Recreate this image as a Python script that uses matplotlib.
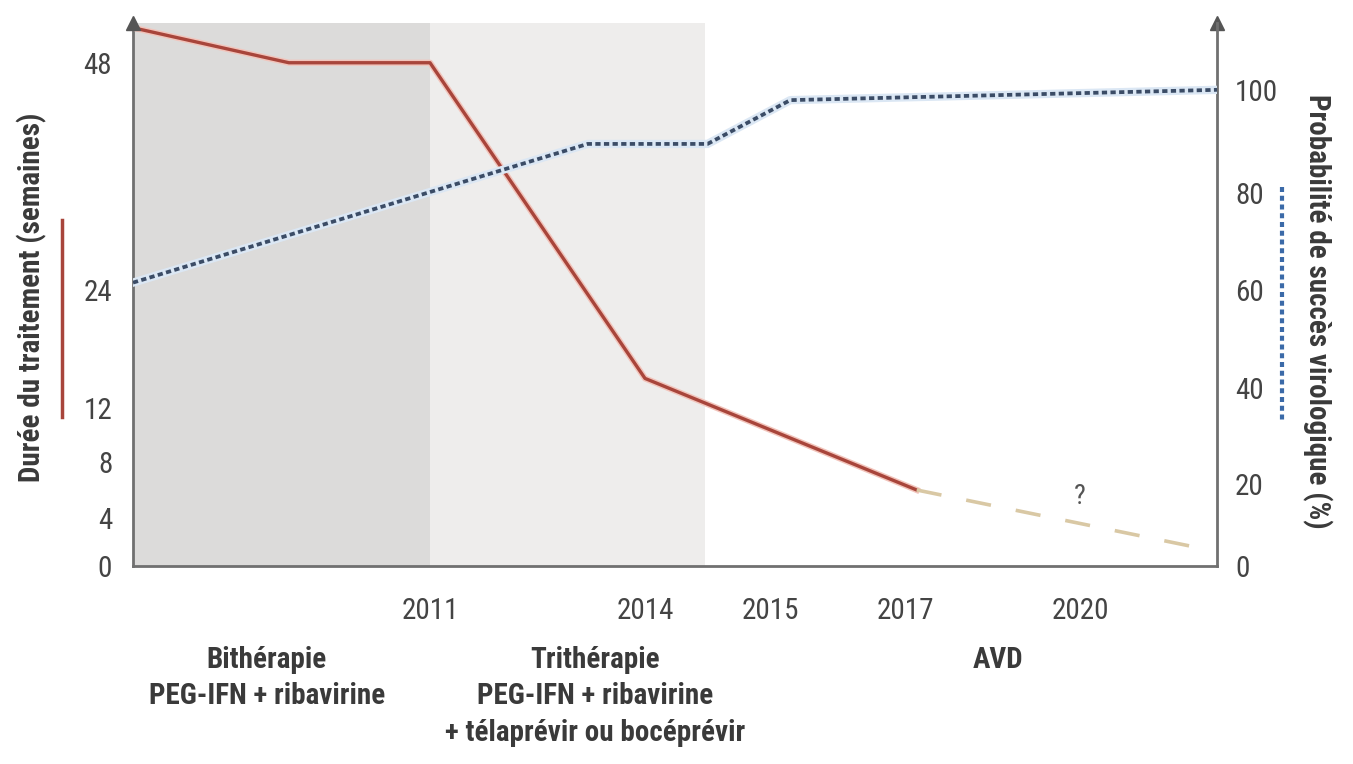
import matplotlib
matplotlib.use("Agg")
import matplotlib.pyplot as plt
import numpy as np
from matplotlib.lines import Line2D

plt.rcParams['font.family'] = ['Roboto Condensed', 'Open Sans Condensed',
                               'Liberation Sans Narrow', 'Roboto', 'DejaVu Sans']

# ---- data ----
red_years = [2007, 2009.1, 2011, 2014, 2017.2]
red_weeks = [51.7, 48, 48, 15, 6]
future_years = [2017.2, 2022.3]
future_weeks = [6, 1.3]

blue_years = [2007, 2013.2, 2014.5, 2015.3, 2022.4]
blue_pct = [61.5, 89.5, 89.5, 98, 100]

year_ticks = [2011, 2014, 2015, 2017, 2020]
week_ticks = [0, 4, 8, 12, 24, 48]
pct_ticks = [0, 20, 40, 60, 80, 100]

bands = [(2007, 2011, '#dcdbda'), (2011, 2014.48, '#eeedec')]
groups = [(2008.8, "Bithérapie\nPEG-IFN + ribavirine"),
          (2013.3, "Trithérapie\nPEG-IFN + ribavirine\n+ télaprévir ou bocéprévir"),
          (2018.6, "AVD")]

# ---- schematic (non linear) scales of the original figure ----
x_knots = [2000, 2007, 2011, 2014, 2015, 2017, 2020, 2022.4, 2030]
x_pix = [-520, 0, 297, 512, 637, 772, 947, 1084, 1529]
w_knots = [0, 4, 8, 12, 24, 48, 60]
w_pix = [0, 48, 104, 158, 276, 503, 616.5]
p_knots = [0, 20, 40, 60, 80, 100, 120]
p_pix = [0, 82, 178, 276, 373, 476, 578]


def interp_scale(knots, pix):
    knots = np.asarray(knots, float)
    pix = np.asarray(pix, float)
    return (lambda v: np.interp(v, knots, pix),
            lambda p: np.interp(p, pix, knots))


W, H = 1353, 764
fig = plt.figure(figsize=(W / 100, H / 100), dpi=100)
ax = fig.add_axes([133 / W, 1 - 566 / H, (1217 - 133) / W, (566 - 23) / H])
ax.set_xscale('function', functions=interp_scale(x_knots, x_pix))
ax.set_yscale('function', functions=interp_scale(w_knots, w_pix))
ax.set_xlim(2007, 2022.4)
ax.set_ylim(0, 52.2)

ax2 = ax.twinx()
ax2.set_yscale('function', functions=interp_scale(p_knots, p_pix))
ax2.set_ylim(0, 113.1)

for x0, x1, c in bands:
    ax.axvspan(x0, x1, color=c, lw=0, zorder=0)

# treatment duration
ax.plot(red_years, red_weeks, color='#f2c4bb', lw=4.5, zorder=3)
ax.plot(red_years, red_weeks, color='#a8453b', lw=2.4, zorder=4)
ax.plot(future_years, future_weeks, color='#d9c8a4', lw=2.6,
        dashes=(7, 7), zorder=4)
ax.text(2020, 5.5, "?", fontsize=20, color='#555555', ha='center', va='center')

# probability of success
ax2.plot(blue_years, blue_pct, color='#dbe7f4', lw=6, zorder=3)
ax2.plot(blue_years, blue_pct, color='#3b4c66', lw=2.7,
         dashes=(1.4, 0.9), zorder=4)

axis_col = '#707070'
for a in (ax, ax2):
    for s in a.spines.values():
        s.set_visible(False)
    a.tick_params(length=0)
for a, side in ((ax, 'left'), (ax, 'bottom'), (ax2, 'right')):
    a.spines[side].set_visible(True)
    a.spines[side].set_color(axis_col)
    a.spines[side].set_linewidth(2)

ax.set_xticks(year_ticks)
ax.set_xticklabels([str(y) for y in year_ticks])
ax.set_yticks(week_ticks)
ax.set_yticklabels([str(w) for w in week_ticks])
ax2.set_yticks(pct_ticks)
ax2.set_yticklabels([str(p) for p in pct_ticks])
ax.xaxis.set_minor_locator(plt.NullLocator())
ax.yaxis.set_minor_locator(plt.NullLocator())
ax2.yaxis.set_minor_locator(plt.NullLocator())
ax.tick_params(axis='x', pad=22, labelsize=21, labelcolor='#444444')
ax.tick_params(axis='y', pad=15, labelsize=21, labelcolor='#444444')
ax2.tick_params(axis='y', pad=13, labelsize=21, labelcolor='#444444')

# arrow heads on the vertical axes
for xa in (0, 1):
    ax.plot([xa], [1.0], marker='^', ms=10, color='#555555',
            transform=ax.transAxes, clip_on=False, zorder=6)

# phase labels under the axis
for gx, txt in groups:
    ax.text(gx, -0.147, txt, transform=ax.get_xaxis_transform(), ha='center',
            va='top', fontsize=21, fontweight='bold', color='#3a3a3a',
            linespacing=1.38)

# axis titles with their legend strokes
fig.text(32 / W, 1 - 297 / H, "Durée du traitement (semaines)", rotation=90,
         ha='center', va='center', fontsize=21, fontweight='bold', color='#3a3a3a')
fig.text(1317 / W, 1 - 311 / H, "Probabilité de succès virologique (%)", rotation=-90,
         ha='center', va='center', fontsize=21, fontweight='bold', color='#3a3a3a')
fig.add_artist(Line2D([62 / W, 62 / W], [1 - 220 / H, 1 - 417 / H],
                      color='#a8453b', lw=2.5))
fig.add_artist(Line2D([1282 / W, 1282 / W], [1 - 187 / H, 1 - 421 / H],
                      color='#3b6aa8', lw=3, dashes=(1.2, 0.9)))

fig.savefig("out.png", dpi=100)
